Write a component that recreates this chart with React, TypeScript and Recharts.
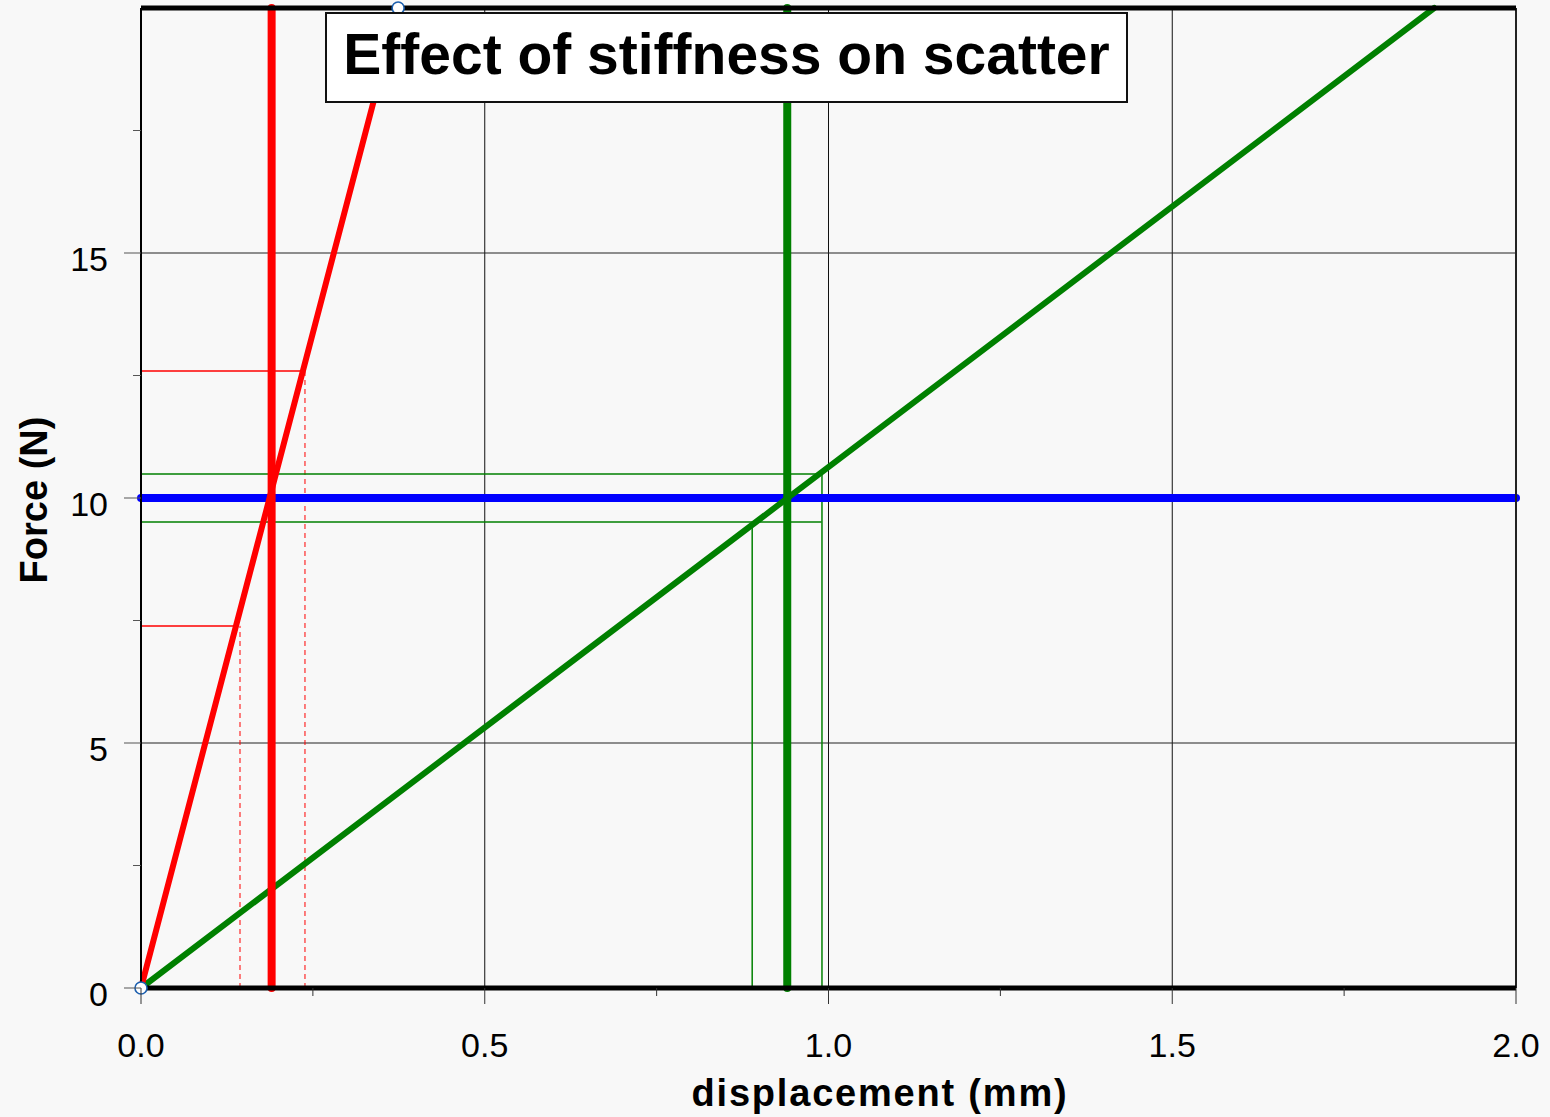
import React from 'react';
import {
  ComposedChart,
  Line,
  XAxis,
  YAxis,
  ReferenceLine,
  Label,
} from 'recharts';

// ---- data ----
const xTicks = [0, 0.25, 0.5, 0.75, 1.0, 1.25, 1.5, 1.75, 2.0];
const xMajorTicks = [0, 0.5, 1.0, 1.5, 2.0];
const yTicks = [0, 2.5, 5, 7.5, 10, 12.5, 15, 17.5];
const yMajorTicks = [0, 5, 10, 15];
const xGrid = [0.5, 1.0, 1.5];
const yGrid = [5, 10, 15];

const stiffLine = [
  { x: 0, y: 0 },
  { x: 0.374, y: 20 },
];
const softLine = [
  { x: 0, y: 0 },
  { x: 1.881, y: 20 },
];
const handlePoints = [
  { x: 0, y: 0 },
  { x: 0.374, y: 20 },
];
const nominalForce = [
  { x: 0, y: 10 },
  { x: 2, y: 10 },
];
const stiffMeanDisp = [
  { x: 0.19, y: 0 },
  { x: 0.19, y: 20 },
];
const softMeanDisp = [
  { x: 0.94, y: 0 },
  { x: 0.94, y: 20 },
];
// stiff spring: force scatter band (horizontal) and displacement band (dashed vertical)
const stiffForceLow = [
  { x: 0, y: 7.39 },
  { x: 0.138, y: 7.39 },
];
const stiffForceHigh = [
  { x: 0, y: 12.59 },
  { x: 0.235, y: 12.59 },
];
const stiffDispLow = [
  { x: 0.144, y: 0 },
  { x: 0.144, y: 7.39 },
];
const stiffDispHigh = [
  { x: 0.2385, y: 0 },
  { x: 0.2385, y: 12.59 },
];
// soft spring: force band and displacement band
const softForceLow = [
  { x: 0, y: 9.51 },
  { x: 0.99, y: 9.51 },
];
const softForceHigh = [
  { x: 0, y: 10.49 },
  { x: 0.99, y: 10.49 },
];
const softDispLow = [
  { x: 0.889, y: 0 },
  { x: 0.889, y: 9.51 },
];
const softDispHigh = [
  { x: 0.9905, y: 0 },
  { x: 0.9905, y: 10.49 },
];

const FONT = '"Liberation Sans", Arial, Helvetica, sans-serif';

const XTick = (props: any) => {
  const { x, y, payload } = props;
  const v = payload.value;
  const major = xMajorTicks.some((m) => Math.abs(m - v) < 1e-6);
  return (
    <g>
      <line x1={x} x2={x} y1={y} y2={y + (major ? 16 : 8)} stroke="#333" strokeWidth={1} />
      {major && (
        <text x={x} y={y + 69} textAnchor="middle" fontFamily={FONT} fontSize={34} fill="#000">
          {v.toFixed(1)}
        </text>
      )}
    </g>
  );
};

const YTick = (props: any) => {
  const { x, y, payload } = props;
  const v = payload.value;
  const major = yMajorTicks.some((m) => Math.abs(m - v) < 1e-6);
  return (
    <g>
      <line x1={x - (major ? 17 : 8)} x2={x} y1={y} y2={y} stroke="#555" strokeWidth={1} />
      {major && (
        <text x={x - 33} y={y + 18} textAnchor="end" fontFamily={FONT} fontSize={34} fill="#000">
          {String(v)}
        </text>
      )}
    </g>
  );
};

const Handle = (props: any) => {
  const { cx, cy, index } = props;
  return <circle key={'h' + index} cx={cx} cy={cy} r={6} fill="#ffffff" stroke="#1c5fae" strokeWidth={1.6} />;
};

const lineProps = {
  dataKey: 'y',
  dot: false,
  activeDot: false,
  isAnimationActive: false,
  type: 'linear' as const,
  legendType: 'none' as const,
};

export default function App() {
  return (
    <div
      style={{
        position: 'absolute',
        left: 0,
        top: 0,
        width: 1550,
        height: 1117,
        background: '#f8f8f8',
        overflow: 'hidden',
      }}
    >
      <ComposedChart
        width={1550}
        height={1117}
        margin={{ top: 8, right: 34, bottom: 0, left: 0 }}
      >
        <XAxis
          dataKey="x"
          type="number"
          domain={[0, 2]}
          ticks={xTicks}
          interval={0}
          height={129}
          tickSize={0}
          tickMargin={0}
          tickLine={false}
          axisLine={false}
          tick={<XTick />}
        >
          <Label
            content={() => (
              <text
                x={880}
                y={1106}
                textAnchor="middle"
                fontFamily={FONT}
                fontWeight="bold"
                fontSize={38}
                letterSpacing={1.8}
                fill="#000"
              >
                displacement (mm)
              </text>
            )}
          />
        </XAxis>
        <YAxis
          dataKey="y"
          type="number"
          domain={[0, 20]}
          ticks={yTicks}
          interval={0}
          width={141}
          tickSize={0}
          tickMargin={0}
          tickLine={false}
          axisLine={false}
          tick={<YTick />}
        >
          <Label
            content={() => (
              <text
                x={47}
                y={500}
                transform="rotate(-90, 47, 500)"
                textAnchor="middle"
                fontFamily={FONT}
                fontWeight="bold"
                fontSize={38}
                fill="#000"
              >
                Force (N)
              </text>
            )}
          />
        </YAxis>

        {xGrid.map((g) => (
          <ReferenceLine key={'gx' + g} x={g} stroke="#111" strokeWidth={1} />
        ))}
        {yGrid.map((g) => (
          <ReferenceLine key={'gy' + g} y={g} stroke="#222" strokeWidth={1} />
        ))}

        <Line {...lineProps} data={stiffForceLow} stroke="#ff0000" strokeWidth={1.5} />
        <Line {...lineProps} data={stiffForceHigh} stroke="#ff0000" strokeWidth={1.5} />
        <Line {...lineProps} data={stiffDispLow} stroke="#ff0000" strokeWidth={1} strokeDasharray="5 4" />
        <Line {...lineProps} data={stiffDispHigh} stroke="#ff0000" strokeWidth={1} strokeDasharray="5 4" />
        <Line {...lineProps} data={softForceLow} stroke="#008000" strokeWidth={1.5} />
        <Line {...lineProps} data={softForceHigh} stroke="#008000" strokeWidth={1.5} />
        <Line {...lineProps} data={softDispLow} stroke="#008000" strokeWidth={1.5} />
        <Line {...lineProps} data={softDispHigh} stroke="#008000" strokeWidth={1.5} />

        <Line {...lineProps} data={nominalForce} stroke="#0000ff" strokeWidth={8} strokeLinecap="round" />
        <Line {...lineProps} data={softLine} stroke="#008000" strokeWidth={6} strokeLinecap="round" />
        <Line {...lineProps} data={stiffLine} stroke="#ff0000" strokeWidth={6} strokeLinecap="round" />
        <Line {...lineProps} data={softMeanDisp} stroke="#008000" strokeWidth={8} strokeLinecap="round" />
        <Line {...lineProps} data={stiffMeanDisp} stroke="#ff0000" strokeWidth={8} strokeLinecap="round" />

        <ReferenceLine x={0} stroke="#000" strokeWidth={2} />
        <ReferenceLine x={2} stroke="#222" strokeWidth={2} />
        <ReferenceLine y={0} stroke="#000" strokeWidth={5} />
        <ReferenceLine y={20} stroke="#000" strokeWidth={5} />

        <Line
          {...lineProps}
          data={handlePoints}
          stroke="none"
          strokeWidth={0}
          dot={<Handle />}
        />
      </ComposedChart>

      <div
        style={{
          position: 'absolute',
          left: 325,
          top: 12,
          width: 803,
          height: 91,
          boxSizing: 'border-box',
          background: '#ffffff',
          border: '2px solid #111',
        }}
      >
        <div
          style={{
            position: 'absolute',
            left: 0,
            right: 0,
            top: 12,
            textAlign: 'center',
            fontFamily: FONT,
            fontWeight: 'bold',
            fontSize: 57,
            lineHeight: '57px',
            color: '#000',
            whiteSpace: 'nowrap',
          }}
        >
          Effect of stiffness on scatter
        </div>
      </div>
    </div>
  );
}
